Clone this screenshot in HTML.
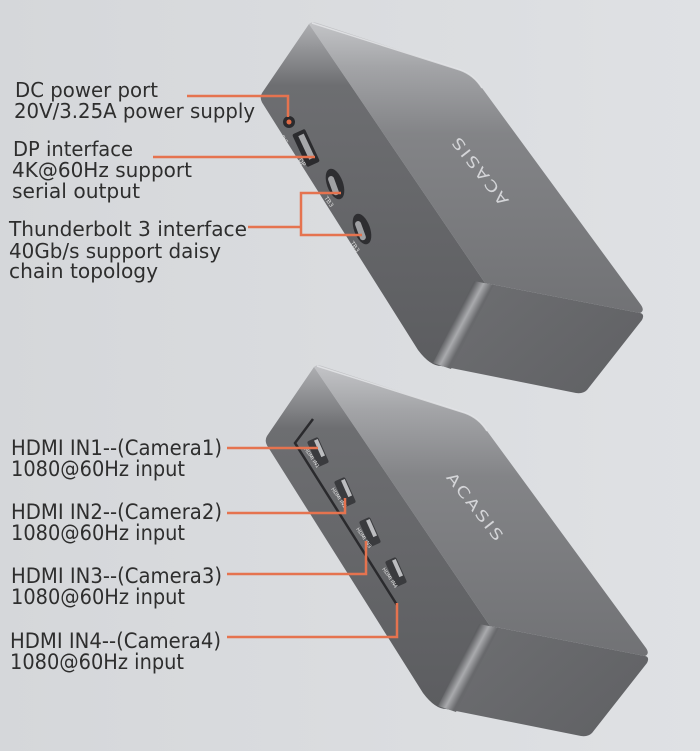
<!DOCTYPE html>
<html><head><meta charset="utf-8"><style>
html,body{margin:0;padding:0;background:#d8dadd;}
svg{display:block;}
</style></head><body>
<svg width="700" height="751" viewBox="0 0 700 751" xmlns="http://www.w3.org/2000/svg">
<defs>
<linearGradient id="bg" x1="0" y1="0" x2="1" y2="0">
<stop offset="0" stop-color="#d5d7da"/><stop offset="1" stop-color="#dfe1e4"/>
</linearGradient>
<linearGradient id="topf" gradientUnits="userSpaceOnUse" x1="0" y1="24" x2="0" y2="313">
<stop offset="0" stop-color="#c2c3c6"/><stop offset="0.15" stop-color="#a3a4a7"/><stop offset="0.38" stop-color="#838487"/><stop offset="1" stop-color="#717275"/>
</linearGradient>
<linearGradient id="portf" gradientUnits="userSpaceOnUse" x1="0" y1="24" x2="0" y2="366">
<stop offset="0" stop-color="#adaeb1"/><stop offset="0.18" stop-color="#6d6e71"/><stop offset="1" stop-color="#5c5d60"/>
</linearGradient>
<linearGradient id="frontf" gradientUnits="userSpaceOnUse" x1="485" y1="283" x2="583" y2="393">
<stop offset="0" stop-color="#6c6d70"/><stop offset="1" stop-color="#626366"/>
</linearGradient>
<linearGradient id="bevel" gradientUnits="userSpaceOnUse" x1="455" y1="319" x2="470" y2="327">
<stop offset="0" stop-color="#5e5f62"/><stop offset="0.5" stop-color="#a9aaad"/><stop offset="1" stop-color="#68696c"/>
</linearGradient>
<g id="box">
<path d="M309,24 Q312,21 317,23 L460,70 Q474,75 482,88 L641,305 Q645,311 640,313 L485,283 Z" fill="url(#topf)"/>
<path d="M309,24 L485,283 L441,366 Q430,366 418,350 L263,104 Q259,98 262,93 Z" fill="url(#portf)"/>
<path d="M485,283 L640,313 Q645,314 642,320 L587,390 Q583,394 576,393 L441,366 Z" fill="url(#frontf)"/>
<path d="M474,281 L494,285 L451,369 L433,363 Z" fill="url(#bevel)"/>
<path d="M312,23 L460,70 Q474,75 482,88" fill="none" stroke="#e6e7ea" stroke-width="1.5" opacity="0.8"/>
</g>
</defs>
<rect width="700" height="751" fill="url(#bg)"/>

<!-- top box -->
<use href="#box"/>
<!-- bottom box -->
<use href="#box" transform="translate(5,343)"/>

<!-- top box ports -->
<circle cx="289" cy="122" r="6" fill="#2a2a2d"/>
<circle cx="289" cy="122" r="2.5" fill="#e06a45"/>
<g transform="translate(306,148) rotate(65)">
<rect x="-18" y="-7" width="36" height="14" rx="2" fill="#2b2b2e"/>
<rect x="-14" y="-4" width="26" height="6" fill="#a6a7aa"/>
</g>
<g transform="translate(335,184) rotate(70)">
<ellipse cx="0" cy="0" rx="16" ry="8" fill="#2e2e31"/>
<rect x="-9" y="-1" width="20" height="6" rx="3" fill="#a0a1a4"/>
</g>
<g transform="translate(362,229) rotate(70)">
<ellipse cx="0" cy="0" rx="16" ry="8" fill="#2e2e31"/>
<rect x="-9" y="-1" width="20" height="6" rx="3" fill="#a0a1a4"/>
</g>
<g font-family="DejaVu Sans, sans-serif" font-size="6" fill="#dcdcdc">
<text transform="translate(280,137) rotate(56)">DC</text>
<text transform="translate(298,160) rotate(56)">DP</text>
<text transform="translate(324,198) rotate(56)">TB3</text>
<text transform="translate(350,243) rotate(56)">TB3</text>
</g>

<!-- bottom box ports -->
<path d="M313,419 L295,443 L397,605" fill="none" stroke="#2a2a2d" stroke-width="2.5"/>
<g fill="#3a3b3e">
<g transform="translate(318,452) rotate(66)"><rect x="-14" y="-6" width="28" height="12" rx="2"/><rect x="-12" y="-5" width="18" height="4" fill="#bcbdc0"/></g>
<g transform="translate(345,492) rotate(66)"><rect x="-14" y="-6" width="28" height="12" rx="2"/><rect x="-12" y="-5" width="18" height="4" fill="#bcbdc0"/></g>
<g transform="translate(370,532) rotate(66)"><rect x="-14" y="-6" width="28" height="12" rx="2"/><rect x="-12" y="-5" width="18" height="4" fill="#bcbdc0"/></g>
<g transform="translate(396,572) rotate(66)"><rect x="-14" y="-6" width="28" height="12" rx="2"/><rect x="-12" y="-5" width="18" height="4" fill="#bcbdc0"/></g>
</g>
<g font-family="DejaVu Sans, sans-serif" font-size="5" fill="#e0e0e0">
<text transform="translate(304,449) rotate(56)">HDMI IN1</text>
<text transform="translate(331,489) rotate(56)">HDMI IN2</text>
<text transform="translate(356,529) rotate(56)">HDMI IN3</text>
<text transform="translate(382,569) rotate(56)">HDMI IN4</text>
</g>

<!-- logos -->
<text transform="translate(480,170) rotate(232)" text-anchor="middle" dominant-baseline="middle" font-family="DejaVu Sans, sans-serif" font-size="15" letter-spacing="2" fill="#d4d5d8" textLength="84" lengthAdjust="spacingAndGlyphs">ACASIS</text>
<text transform="translate(475,508) rotate(52)" text-anchor="middle" dominant-baseline="middle" font-family="DejaVu Sans, sans-serif" font-size="15" letter-spacing="2" fill="#d4d5d8" textLength="84" lengthAdjust="spacingAndGlyphs">ACASIS</text>

<!-- orange connectors -->
<g fill="none" stroke="#e5734f" stroke-width="2.5">
<path d="M187,96 H288 V117"/>
<path d="M153,157 H315"/>
<path d="M248,227 H301"/>
<path d="M341,193 H301 V235 H362"/>
<path d="M227,448 H318"/>
<path d="M227,513 H345 V498"/>
<path d="M227,574 H366 V541"/>
<path d="M227,637 H397 V603"/>
</g>

<!-- labels -->
<g font-family="DejaVu Sans, Liberation Sans, sans-serif" font-size="20" fill="#2e2e2e">
<text x="15" y="97" textLength="143" lengthAdjust="spacingAndGlyphs">DC power port</text>
<text x="14" y="118" textLength="241" lengthAdjust="spacingAndGlyphs">20V/3.25A power supply</text>
<text x="13" y="156" textLength="120" lengthAdjust="spacingAndGlyphs">DP interface</text>
<text x="12" y="177" textLength="180" lengthAdjust="spacingAndGlyphs">4K@60Hz support</text>
<text x="12" y="198" textLength="128" lengthAdjust="spacingAndGlyphs">serial output</text>
<text x="9" y="236" textLength="238" lengthAdjust="spacingAndGlyphs">Thunderbolt 3 interface</text>
<text x="9" y="258" textLength="212" lengthAdjust="spacingAndGlyphs">40Gb/s support daisy</text>
<text x="9" y="278" textLength="149" lengthAdjust="spacingAndGlyphs">chain topology</text>
</g>
<g font-family="DejaVu Sans, Liberation Sans, sans-serif" font-size="21" fill="#2e2e2e">
<text x="11" y="455" textLength="211" lengthAdjust="spacingAndGlyphs">HDMI IN1--(Camera1)</text>
<text x="11" y="476" textLength="174" lengthAdjust="spacingAndGlyphs">1080@60Hz input</text>
<text x="11" y="519" textLength="211" lengthAdjust="spacingAndGlyphs">HDMI IN2--(Camera2)</text>
<text x="11" y="540" textLength="174" lengthAdjust="spacingAndGlyphs">1080@60Hz input</text>
<text x="11" y="583" textLength="211" lengthAdjust="spacingAndGlyphs">HDMI IN3--(Camera3)</text>
<text x="11" y="604" textLength="174" lengthAdjust="spacingAndGlyphs">1080@60Hz input</text>
<text x="10" y="648" textLength="211" lengthAdjust="spacingAndGlyphs">HDMI IN4--(Camera4)</text>
<text x="10" y="669" textLength="174" lengthAdjust="spacingAndGlyphs">1080@60Hz input</text>
</g>
</svg>
</body></html>
